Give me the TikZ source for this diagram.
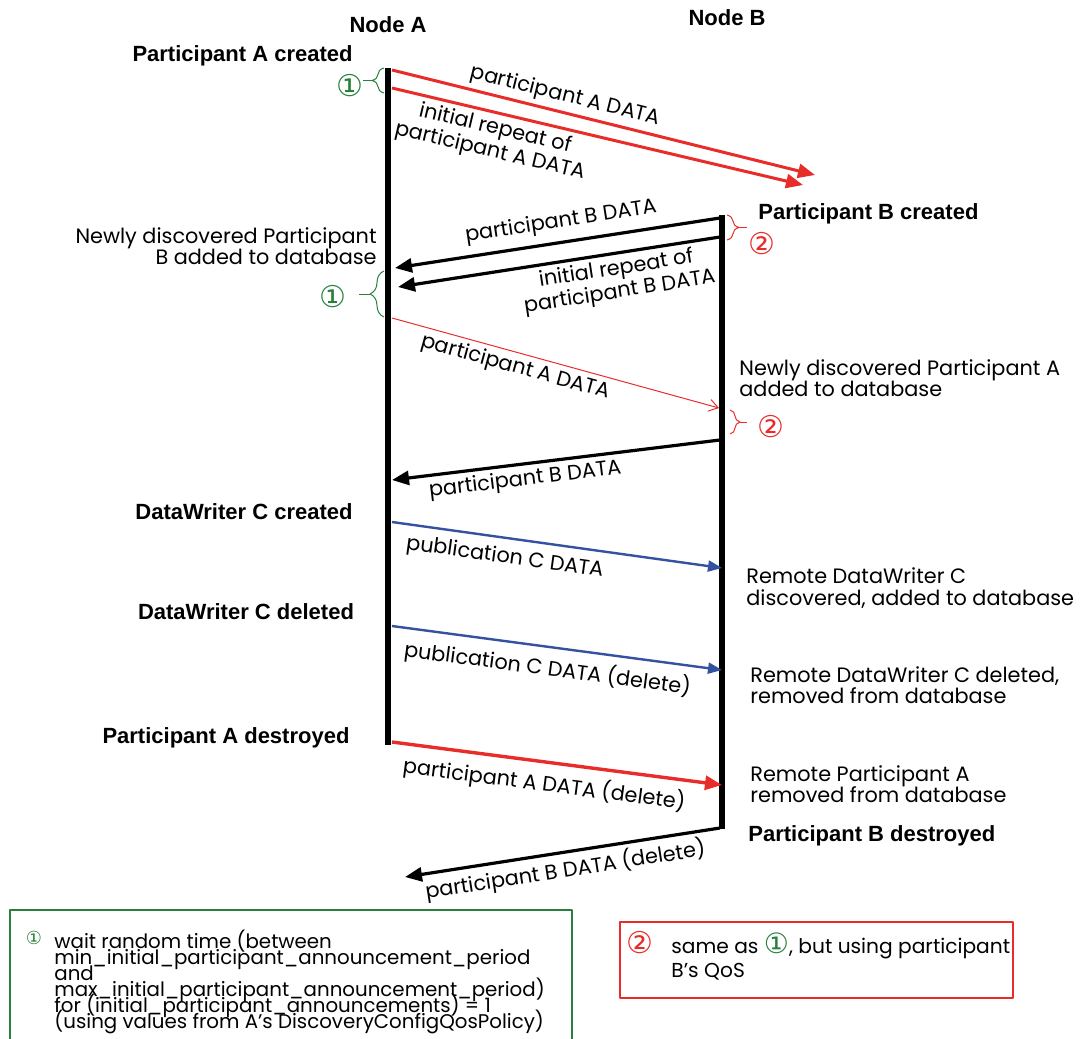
\documentclass[tikz,border=0pt]{standalone}
\usepackage{fontspec}
\setmainfont{Poppins}
\newfontfamily\headfont{Liberation Sans}
\newfontfamily\symfont{DejaVu Sans}
\usetikzlibrary{arrows.meta,decorations.pathreplacing}
\definecolor{msgred}{RGB}{232,44,42}
\definecolor{msgblue}{RGB}{52,82,160}
\definecolor{notegreen}{RGB}{40,128,60}
\newcommand{\circone}{{\symfont\fontsize{14}{10}\selectfont\color{notegreen}①}}
\setlength{\lineskiplimit}{-20pt}

\begin{document}
\begin{tikzpicture}[x=0.5pt,y=-0.5pt,line join=round,
  >={Triangle[length=8.5pt,width=7pt]},
  every node/.style={inner sep=1pt,font=\fontsize{10.4}{10.8}\selectfont},
  head/.style={font=\headfont\bfseries\fontsize{11}{12}\selectfont},
  life/.style={line width=2.6pt},
  redmsg/.style={->,color=msgred,line width=1.5pt},
  thinmsg/.style={-{Straight Barb[length=4.5pt,width=6pt]},color=msgred,line width=0.5pt},
  blackmsg/.style={->,color=black,line width=1.6pt},
  bluemsg/.style={-{Triangle[length=7pt,width=5.5pt]},color=msgblue,line width=1.2pt},
  wait/.style={decorate,decoration={brace,amplitude=#1},line width=0.5pt},
  circmark/.style={font=\symfont\fontsize{15}{15}\selectfont},
  lbl/.style={sloped,align=center,inner sep=2pt,text=black,font=\fontsize{10.4}{11.6}\selectfont}]
  \useasboundingbox (0,0) rectangle (1086,1038);
  % lifelines
  \coordinate (A0) at (388,68);
  \coordinate (A1) at (388,745);
  \coordinate (B0) at (722,215);
  \coordinate (B1) at (722,829);
  \draw[life] (A0) -- (A1);
  \draw[life] (B0) -- (B1);
  % message end points
  \coordinate (a1) at (392,70);   \coordinate (b1) at (815,175);
  \coordinate (a2) at (392,88);   \coordinate (b2) at (803,185);
  \coordinate (b3) at (720,218);  \coordinate (a3) at (395,268);
  \coordinate (b4) at (720,237);  \coordinate (a4) at (398,287);
  \coordinate (a5) at (392,318);  \coordinate (b5) at (719,408);
  \coordinate (b6) at (720,440);  \coordinate (a6) at (392,480);
  \coordinate (a7) at (392,522);  \coordinate (b7) at (722,568);
  \coordinate (a8) at (392,626);  \coordinate (b8) at (722,670);
  \coordinate (a9) at (392,742);  \coordinate (b9) at (722,785);
  \coordinate (b10) at (720,828); \coordinate (a10) at (405,877);
  % messages
  \draw[redmsg] (a1) -- (b1) node[lbl,above,pos=0.4] (l1) {participant A DATA};
  \draw[redmsg] (a2) -- (b2) node[lbl,below,pos=0.26] (l2) {initial repeat of\\participant A DATA};
  \draw[blackmsg] (b3) -- (a3) node[lbl,above,pos=0.48,yshift=2pt] (l3) {participant B DATA};
  \draw[blackmsg] (b4) -- (a4) node[lbl,below,pos=0.33] (l4) {initial repeat of\\participant B DATA};
  \draw[thinmsg] (a5) -- (b5) node[lbl,below,pos=0.39] (l5) {participant A DATA};
  \draw[blackmsg] (b6) -- (a6) node[lbl,below,pos=0.6] (l6) {participant B DATA};
  \draw[bluemsg] (a7) -- (b7) node[lbl,below,pos=0.35,yshift=-2pt] (l7) {publication C DATA};
  \draw[bluemsg] (a8) -- (b8) node[lbl,below,pos=0.48,yshift=-2pt] (l8) {publication C DATA (delete)};
  \draw[redmsg,line width=1.7pt] (a9) -- (b9) node[lbl,below,pos=0.47,yshift=-2pt] (l9) {participant A DATA (delete)};
  \draw[blackmsg] (b10) -- (a10) node[lbl,below,pos=0.5] (l10) {participant B DATA (delete)};
  % waiting braces
  \draw[wait=6pt,notegreen] (384,93) -- (384,68);
  \draw[notegreen,line width=0.5pt] (372,80.5) -- (363,80.5);
  \node[circmark,text=notegreen] (w1) at (350,86) {①};
  \draw[wait=7pt,notegreen] (384,317) -- (384,271);
  \draw[notegreen,line width=0.5pt] (370,294) -- (359,294);
  \node[circmark,text=notegreen] (w2) at (333,297) {①};
  \draw[wait=6pt,msgred] (727,215) -- (727,240);
  \draw[msgred,line width=0.5pt] (739,227.5) -- (747,227.5);
  \node[circmark,text=msgred] (w3) at (762,244) {②};
  \draw[wait=5pt,msgred] (730,410) -- (730,434);
  \draw[msgred,line width=0.5pt] (740,422) -- (747,422);
  \node[circmark,text=msgred] (w4) at (771,427) {②};
  % node headers and events
  \node[head] (nodeA) at (388,25) {Node A};
  \node[head] (nodeB) at (727,18) {Node B};
  \node[head,anchor=east] (pAc) at (355,56) {Participant A created};
  \node[head,anchor=west] (pBc) at (756,214) {Participant B created};
  \node[head] (dCc) at (244,512) {DataWriter C created};
  \node[head] (dCd) at (246,612) {DataWriter C deleted};
  \node[head] (pAd) at (226,738) {Participant A destroyed};
  \node[head,anchor=west] (pBd) at (746,836) {Participant B destroyed};
  \node[align=right,anchor=east] (dB) at (379,246) {Newly discovered Participant\\B added to database};
  \node[align=left,anchor=west] (dA) at (737,378) {Newly discovered Participant A\\added to database};
  \node[align=left,anchor=west] (rC) at (744,588) {Remote DataWriter C\\discovered, added to database};
  \node[align=left,anchor=west] (xC) at (748,685) {Remote DataWriter C deleted,\\removed from database};
  \node[align=left,anchor=west] (xA) at (748,784) {Remote Participant A\\removed from database};
  % notes
  \draw[notegreen,line width=1pt] (10,910) rectangle (572,1050);
  \node[font=\symfont\fontsize{9}{9}\selectfont,text=notegreen] (n1) at (34,938) {①};
  \node[align=left,anchor=north west,font=\fontsize{9.9}{8}\selectfont] (t1) at (52,928)
    {wait random time (between\\min\_initial\_participant\_announcement\_period\\and\\max\_initial\_participant\_announcement\_period)\\for (initial\_participant\_announcements) = 1\\(using values from A’s DiscoveryConfigQosPolicy)};
  \draw[msgred,line width=1pt] (620,922) rectangle (1013,998);
  \node[circmark,text=msgred] (n2) at (640,943) {②};
  \node[align=left,anchor=north west,font=\fontsize{10.1}{12}\selectfont] (t2) at (669,930) {same as \circone, but using participant\\B’s QoS};
\end{tikzpicture}
\end{document}
